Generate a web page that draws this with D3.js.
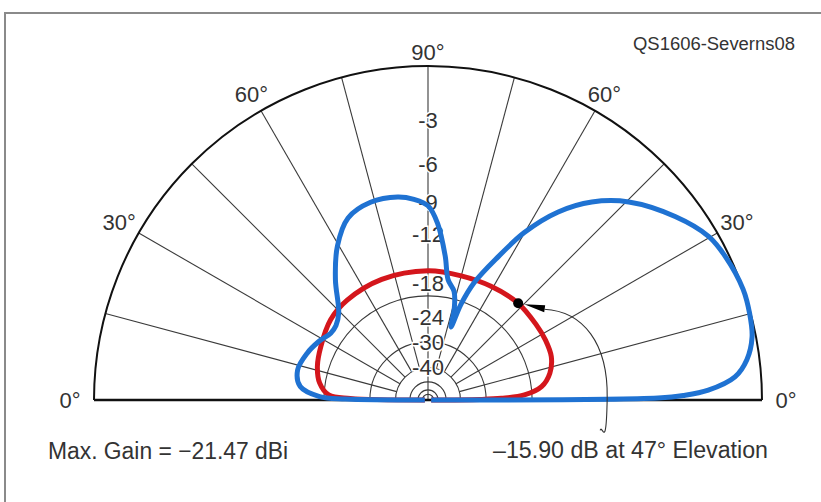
<!DOCTYPE html>
<html>
<head>
<meta charset="utf-8">
<script src="https://cdn.jsdelivr.net/npm/d3@7"></script>
<style>
  body { margin: 0; background: #fff; }
  svg { display: block; font-family: "Liberation Sans", Arial, sans-serif; }
</style>
</head>
<body>
<svg id="chart" width="821" height="502"></svg>
<script>
// elevation pattern, angles in degrees (0 = right horizon), values in dB
var blueAngles = [0, 0.5, 1, 2, 4.3, 7.2, 11, 15, 19.4, 25.8, 30.2, 36.6, 44.6, 50.4, 55.3, 60.1, 63.9, 68.5, 71, 72.5, 74, 76.5, 80.5, 83.2, 86.9, 90, 94, 98.5, 106.2, 113.7, 120.5, 127.5, 135.7, 141, 145.5, 152, 158.8, 167, 174, 178.2, 179.3, 180];
var blueDb = [-80, -6.4, -4.6, -3.0, -1.4, -0.66, -0.2, -0.05, 0, -0.2, -0.47, -1.4, -2.9, -4.5, -6.5, -9.4, -12.7, -16.7, -20.5, -25.3, -21.5, -18.8, -17.3, -14.3, -10.9, -9.3, -8.7, -8.35, -8.3, -8.9, -10.75, -13.5, -16.9, -17.8, -17.85, -17.0, -16.25, -15.7, -16.4, -19.3, -24, -80];

var redAngles = [0, 0.6, 1.3, 3, 6.7, 12.4, 19.4, 27, 35, 47, 61, 75, 90, 111, 129, 140.5, 153.5, 163, 171, 177, 178.8, 180];
var redDb = [-80, -32, -26, -21.3, -18.4, -16.9, -16.1, -15.95, -15.95, -15.9, -16.2, -16.4, -16.3, -16.3, -16.4, -16.7, -17.6, -18.2, -19.1, -20.8, -25, -80];

var dbLabels = [-3, -6, -9, -12, -18, -24, -30, -40];
var ringDb = [-20, -30, -40, -50, -60, -70];
var spokeAngles = d3.range(15, 180, 15);
var angleLabels = [0, 30, 60, 90, 120, 150, 180];
var angleText = ["0°", "30°", "60°", "90°", "60°", "30°", "0°"];

var peakAngle = 47, peakDb = -15.90;

var svg = d3.select("#chart");
var cx = 428, cy = 400, R = 334;

// ARRL log scale: each 2 dB = 0.89 of radius
var logR = d3.scaleLinear().domain([-2, 0]).range([Math.log(0.89), 0]);
function r(db) { return R * Math.exp(logR(db)); }
var ang = d3.scaleLinear().domain([0, 180]).range([Math.PI / 2, -Math.PI / 2]);

var g = svg.append("g").attr("transform", "translate(" + cx + "," + cy + ")");

// frame
svg.append("line").attr("x1", 5).attr("x2", 821).attr("y1", 13).attr("y2", 13)
  .attr("stroke", "#8a8a8a").attr("stroke-width", 2);
svg.append("line").attr("x1", 5).attr("x2", 5).attr("y1", 12).attr("y2", 502)
  .attr("stroke", "#8a8a8a").attr("stroke-width", 2);

// rings
var arc = d3.arc().startAngle(-Math.PI / 2).endAngle(Math.PI / 2);
g.selectAll("path.ring")
  .data(ringDb)
  .join("path")
  .attr("class", "ring")
  .attr("d", d => arc({ innerRadius: r(d), outerRadius: r(d) }))
  .attr("fill", "none")
  .attr("stroke", "#3a3a3a")
  .attr("stroke-width", 1.1);

// spokes
g.selectAll("line.spoke")
  .data(spokeAngles)
  .join("line")
  .attr("class", "spoke")
  .attr("x1", d => (d === 90 ? 0 : r(-40)) * Math.sin(ang(d)))
  .attr("y1", d => -(d === 90 ? 0 : r(-40)) * Math.cos(ang(d)))
  .attr("x2", d => R * Math.sin(ang(d)))
  .attr("y2", d => -R * Math.cos(ang(d)))
  .attr("stroke", "#3a3a3a")
  .attr("stroke-width", 1.1);

// outer arc + baseline
g.append("path")
  .attr("d", arc({ innerRadius: R, outerRadius: R }))
  .attr("fill", "none").attr("stroke", "#111").attr("stroke-width", 2);
g.append("line").attr("x1", -R).attr("x2", R).attr("y1", 0).attr("y2", 0)
  .attr("stroke", "#111").attr("stroke-width", 2.5);

// dB labels
g.selectAll("text.db")
  .data(dbLabels)
  .join("text")
  .attr("class", "db")
  .attr("x", 0)
  .attr("y", d => -r(d))
  .attr("dy", "0.36em")
  .attr("text-anchor", "middle")
  .attr("font-size", 22)
  .attr("fill", "#333")
  .attr("stroke", "#fff")
  .attr("stroke-width", 3)
  .attr("paint-order", "stroke")
  .text(d => d);

// angle labels
g.selectAll("text.ang")
  .data(angleLabels)
  .join("text")
  .attr("class", "ang")
  .attr("x", (d, i) => (R + 14 + 10 * Math.abs(Math.cos(d * Math.PI / 180))) * Math.sin(ang(d)))
  .attr("y", (d, i) => -(R + 14 + 10 * Math.abs(Math.cos(d * Math.PI / 180))) * Math.cos(ang(d)))
  .attr("dy", "0.36em")
  .attr("text-anchor", "middle")
  .attr("font-size", 22)
  .attr("fill", "#333")
  .text((d, i) => angleText[i]);

// pattern curves
var line = d3.lineRadial()
  .angle(d => ang(d[0]))
  .radius(d => r(d[1]))
  .curve(d3.curveCatmullRom.alpha(0.5));

g.append("path")
  .datum(d3.zip(redAngles, redDb))
  .attr("d", line)
  .attr("fill", "none")
  .attr("stroke", "#d4161c")
  .attr("stroke-width", 5)
  .attr("stroke-linejoin", "round");

g.append("path")
  .datum(d3.zip(blueAngles, blueDb))
  .attr("d", line)
  .attr("fill", "none")
  .attr("stroke", "#1f72d2")
  .attr("stroke-width", 5)
  .attr("stroke-linejoin", "round");

// peak marker + leader
var px = r(peakDb) * Math.sin(ang(peakAngle));
var py = -r(peakDb) * Math.cos(ang(peakAngle));
g.append("circle").attr("cx", px).attr("cy", py).attr("r", 5).attr("fill", "#000");
g.append("path")
  .attr("d", "M" + (px + 6) + "," + (py + 1) + " L" + (px + 27) + "," + (py + 2) + " L" + (px + 26) + "," + (py + 9) + " Z")
  .attr("fill", "#000");
g.append("path")
  .attr("d", "M" + (px + 26) + "," + (py + 6) + " C" + (px + 65) + "," + (py + 8) + " " + (px + 90) + "," + (py + 40) + " " + (px + 89) + "," + (py + 95) +
    " S" + (px + 84) + "," + (py + 120) + " " + (px + 82) + "," + (py + 127))
  .attr("fill", "none").attr("stroke", "#333").attr("stroke-width", 1.1);

// texts
svg.append("text").attr("x", 795).attr("y", 50).attr("text-anchor", "end")
  .attr("font-size", 18).attr("fill", "#333")
  .attr("textLength", 162).attr("lengthAdjust", "spacingAndGlyphs")
  .text("QS1606-Severns08");
svg.append("text").attr("x", 48).attr("y", 459)
  .attr("font-size", 23).attr("fill", "#333")
  .attr("textLength", 240).attr("lengthAdjust", "spacingAndGlyphs")
  .text("Max. Gain = −21.47 dBi");
svg.append("text").attr("x", 493).attr("y", 458)
  .attr("font-size", 23).attr("fill", "#333")
  .attr("textLength", 275).attr("lengthAdjust", "spacingAndGlyphs")
  .text("–15.90 dB at 47° Elevation");
</script>
</body>
</html>
